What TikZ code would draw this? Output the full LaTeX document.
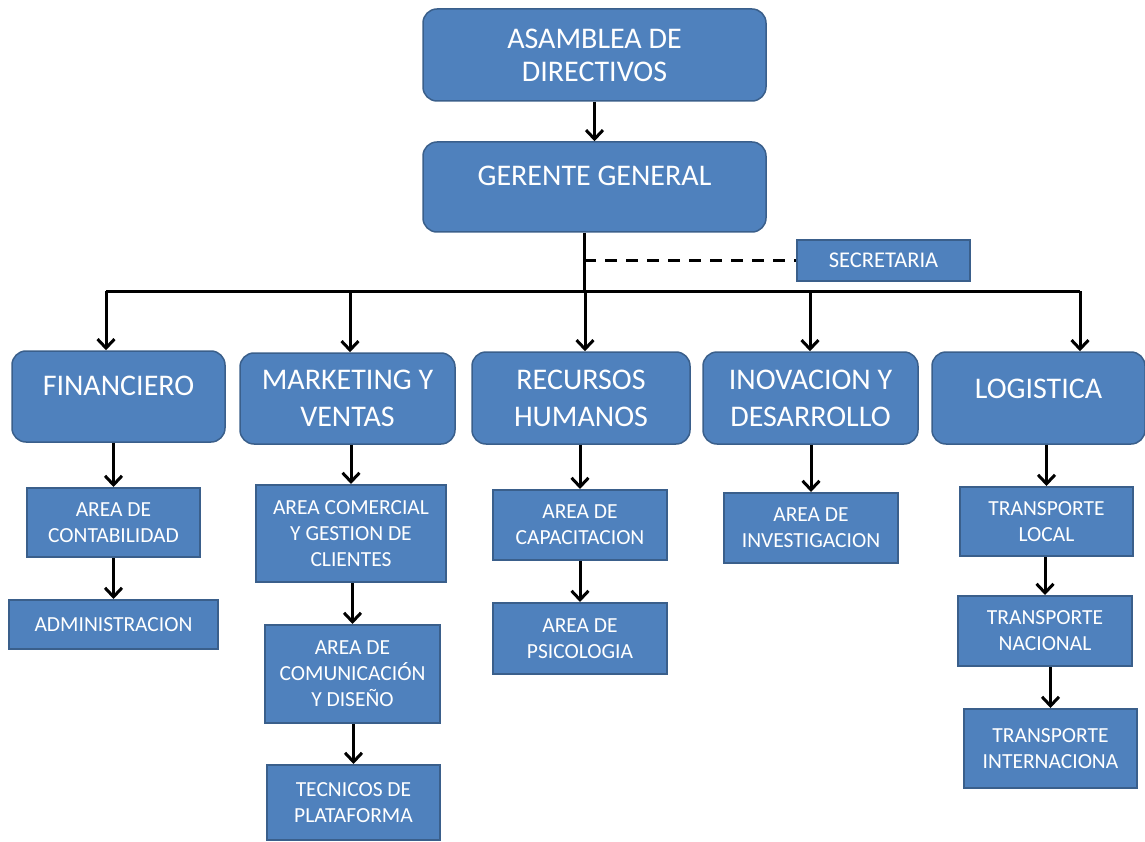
\documentclass[tikz,border=0pt]{standalone}
\usepackage{fontspec}
\setmainfont{Carlito}
\usetikzlibrary{arrows.meta}
\definecolor{cajaazul}{HTML}{4F81BD}
\definecolor{bordeazul}{HTML}{3A5F8B}

\begin{document}
\begin{tikzpicture}[x=1pt,y=-1pt]
        \tikzstyle{grande}=[draw=bordeazul, line width=1.5pt, fill=cajaazul, rounded corners=14pt, text=white, align=center, inner sep=0pt, font=\fontsize{30}{33}\selectfont]
        \tikzstyle{depto}=[grande, font=\fontsize{30}{37}\selectfont]
        \tikzstyle{caja}=[draw=bordeazul, line width=2pt, fill=cajaazul, text=white, align=center, inner sep=0pt, font=\fontsize{21.5}{26}\selectfont]
        \tikzstyle{linea}=[line width=3pt]
        \tikzstyle{flecha}=[linea, -{Straight Barb[length=9pt,width=17pt]}]
        \useasboundingbox (0,0) rectangle (1145,842);
        % cabeza
        \node[grande, minimum width=343, minimum height=92] (asamblea) at (594.5,55) {ASAMBLEA DE\\DIRECTIVOS};
        \node[grande, minimum width=343, minimum height=90] (gerente) at (594.5,187) {GERENTE GENERAL\\[-10pt]\mbox{}};
        \node[caja, minimum width=173, minimum height=41, font=\fontsize{22.5}{26}\selectfont] (secretaria) at (883.5,260.5) {SECRETARIA};
        % departamentos
        \node[depto, minimum width=213, minimum height=91] (fin) at (118.5,396.5) {FINANCIERO\\[-16pt]\mbox{}};
        \node[depto, minimum width=215, minimum height=91] (mkt) at (347.5,398.5) {MARKETING Y\\VENTAS};
        \node[depto, minimum width=218, minimum height=92] (rrhh) at (581,398) {RECURSOS\\HUMANOS};
        \node[depto, minimum width=215, minimum height=92] (inov) at (810.5,398) {INOVACION Y\\DESARROLLO};
        \node[depto, minimum width=213, minimum height=92] (logi) at (1038.5,398) {LOGISTICA\\[-18pt]\mbox{}};
        % areas
        \node[caja, minimum width=173, minimum height=69] (conta) at (113.5,522.5) {AREA DE\\CONTABILIDAD};
        \node[caja, minimum width=209, minimum height=49] (admin) at (113.5,624.5) {ADMINISTRACION};
        \node[caja, minimum width=190, minimum height=97] (comercial) at (351,533.5) {AREA COMERCIAL\\Y GESTION DE\\CLIENTES};
        \node[caja, minimum width=175, minimum height=98] (comunic) at (352.5,674) {AREA DE\\COMUNICACIÓN\\Y DISEÑO};
        \node[caja, minimum width=173, minimum height=75] (tecnicos) at (353.5,802.5) {TECNICOS DE\\PLATAFORMA};
        \node[caja, minimum width=174, minimum height=70] (capac) at (580,525) {AREA DE\\CAPACITACION};
        \node[caja, minimum width=174, minimum height=71] (psico) at (580,638.5) {AREA DE\\PSICOLOGIA};
        \node[caja, minimum width=174, minimum height=70] (invest) at (811,528) {AREA DE\\INVESTIGACION};
        \node[caja, minimum width=173, minimum height=69] (tlocal) at (1046.5,521.5) {TRANSPORTE\\LOCAL};
        \node[caja, minimum width=174, minimum height=70] (tnac) at (1045,631) {TRANSPORTE\\NACIONAL};
        \node[caja, minimum width=173, minimum height=79] (tint) at (1050.5,748.5) {TRANSPORTE\\INTERNACIONA};
        % conexiones
        \coordinate (tronco) at (584,291);
        \coordinate (b1) at (106,291);
        \coordinate (b2) at (350,291);
        \coordinate (b3) at (585,291);
        \coordinate (b4) at (810,291);
        \coordinate (b5) at (1080,291);
        \draw[flecha] (asamblea) -- (gerente);
        \draw[linea] (tronco |- gerente.south) -- (tronco);
        \draw[linea, dash pattern=on 12pt off 9pt] (tronco |- secretaria.west) -- (secretaria.west);
        \draw[linea] (b1) -- (b5);
        \draw[flecha] (b1) -- (b1 |- fin.north);
        \draw[flecha] (b2) -- (b2 |- mkt.north);
        \draw[flecha] (b3) -- (b3 |- rrhh.north);
        \draw[flecha] (b4) -- (b4 |- inov.north);
        \draw[flecha] (b5) -- (b5 |- logi.north);
        \draw[flecha] (conta.north |- fin.south) -- (conta.north);
        \draw[flecha] (admin.north |- conta.south) -- (admin.north);
        \draw[flecha] (comercial.north |- mkt.south) -- (comercial.north);
        \draw[flecha] (comunic.north |- comercial.south) -- (comunic.north);
        \draw[flecha] (tecnicos.north |- comunic.south) -- (tecnicos.north);
        \draw[flecha] (capac.north |- rrhh.south) -- (capac.north);
        \draw[flecha] (psico.north |- capac.south) -- (psico.north);
        \draw[flecha] (invest.north |- inov.south) -- (invest.north);
        \draw[flecha] (tlocal.north |- logi.south) -- (tlocal.north);
        \draw[flecha] (tnac.north |- tlocal.south) -- (tnac.north);
        \draw[flecha] (tint.north |- tnac.south) -- (tint.north);
\end{tikzpicture}
\end{document}
